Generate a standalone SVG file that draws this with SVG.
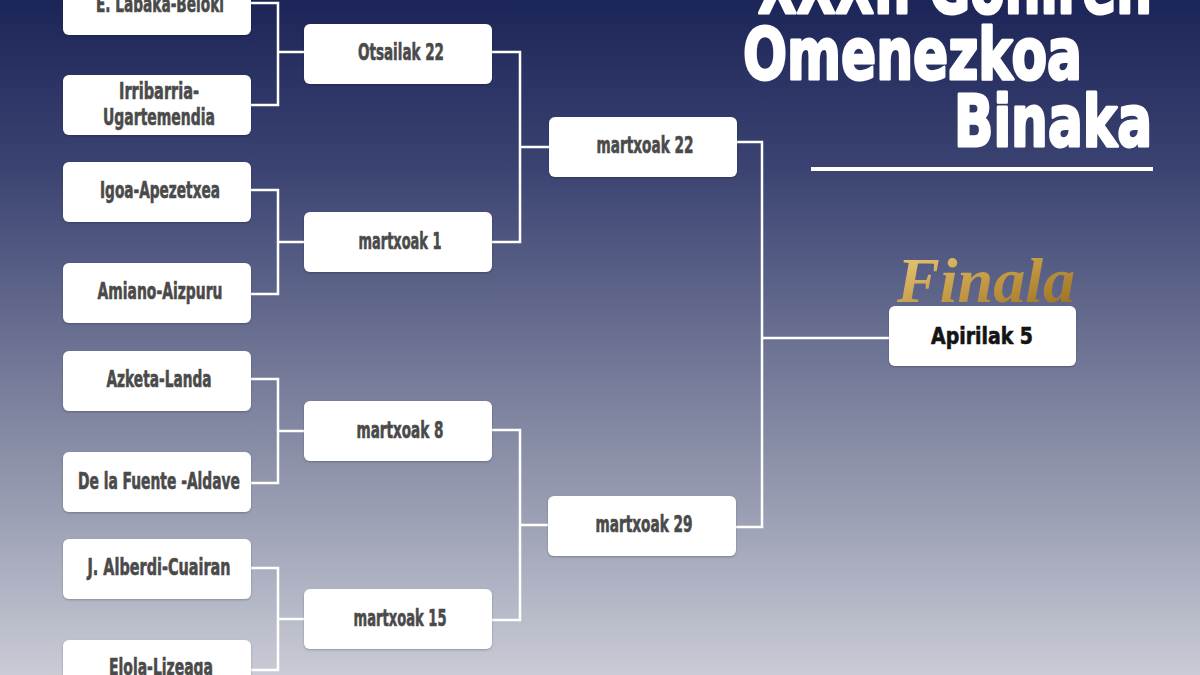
<svg xmlns="http://www.w3.org/2000/svg" width="1200" height="675" viewBox="0 0 1200 675">
<defs>
<linearGradient id="bg" x1="0" y1="0" x2="0" y2="1">
<stop offset="0" stop-color="#1c2557"/>
<stop offset="0.25" stop-color="#3b4372"/>
<stop offset="0.5" stop-color="#6a7091"/>
<stop offset="0.75" stop-color="#999db2"/>
<stop offset="1" stop-color="#c9cbd5"/>
</linearGradient>
<linearGradient id="gold" x1="0" y1="0" x2="1" y2="1">
<stop offset="0" stop-color="#ecd084"/>
<stop offset="0.5" stop-color="#c49a45"/>
<stop offset="1" stop-color="#94691c"/>
</linearGradient>
<filter id="sh" x="-10%" y="-20%" width="120%" height="150%">
<feDropShadow dx="0" dy="1" stdDeviation="1.2" flood-color="#000" flood-opacity="0.25"/>
</filter>
<style>
.box{fill:#ffffff;filter:url(#sh)}
.t{font-family:"Liberation Sans Narrow","DejaVu Sans Condensed","Liberation Sans",sans-serif;font-weight:bold;font-size:23px;fill:#4a4a4a;stroke:#4a4a4a;stroke-width:0.6;text-anchor:middle}
.ln{fill:none;stroke:#ffffff;stroke-width:2.5}
.title{font-family:"DejaVu Sans","Liberation Sans",sans-serif;font-weight:bold;font-size:72px;fill:#ffffff;stroke:#ffffff;stroke-width:3;stroke-linejoin:round}
</style>
</defs>
<rect x="0" y="0" width="1200" height="675" fill="url(#bg)"/>

<g id="title">
<text class="title" x="758" y="13" textLength="394" lengthAdjust="spacingAndGlyphs">XXXI. Goñiren</text>
<text class="title" x="743" y="79" textLength="339" lengthAdjust="spacingAndGlyphs">Omenezkoa</text>
<text class="title" x="954" y="146" textLength="198" lengthAdjust="spacingAndGlyphs">Binaka</text>
<rect x="811" y="167" width="342" height="4" fill="#ffffff"/>
</g>

<g id="connectors">
<path class="ln" d="M251 3 H278 V105 H251 M278 52 H304"/>
<path class="ln" d="M251 190 H278 V294 H251 M278 242 H304"/>
<path class="ln" d="M251 379 H278 V483 H251 M278 431 H304"/>
<path class="ln" d="M251 568 H278 V670 H251 M278 619 H304"/>
<path class="ln" d="M492 52 H520 V242 H492 M520 147 H549"/>
<path class="ln" d="M492 430 H520 V620 H492 M520 525 H548"/>
<path class="ln" d="M737 142 H762 V527 H736 M762 338 H889"/>
</g>

<g id="n1"><rect class="box" x="63" y="-25" width="188" height="60" rx="6"/><text class="t" x="160" y="12" textLength="128" lengthAdjust="spacingAndGlyphs">E. Labaka-Beloki</text></g>
<g id="n2"><rect class="box" x="63" y="75" width="188" height="60" rx="6"/><text class="t" x="159" y="99" textLength="80" lengthAdjust="spacingAndGlyphs">Irribarria-</text><text class="t" x="159" y="125" textLength="112" lengthAdjust="spacingAndGlyphs">Ugartemendia</text></g>
<g id="n3"><rect class="box" x="63" y="162" width="188" height="60" rx="6"/><text class="t" x="160" y="198" textLength="120" lengthAdjust="spacingAndGlyphs">Igoa-Apezetxea</text></g>
<g id="n4"><rect class="box" x="63" y="263" width="188" height="60" rx="6"/><text class="t" x="160" y="299" textLength="125" lengthAdjust="spacingAndGlyphs">Amiano-Aizpuru</text></g>
<g id="n5"><rect class="box" x="63" y="351" width="188" height="60" rx="6"/><text class="t" x="159" y="387" textLength="105" lengthAdjust="spacingAndGlyphs">Azketa-Landa</text></g>
<g id="n6"><rect class="box" x="63" y="452" width="188" height="60" rx="6"/><text class="t" x="159" y="489" textLength="162" lengthAdjust="spacingAndGlyphs">De la Fuente -Aldave</text></g>
<g id="n7"><rect class="box" x="63" y="539" width="188" height="60" rx="6"/><text class="t" x="159" y="575" textLength="143" lengthAdjust="spacingAndGlyphs">J. Alberdi-Cuairan</text></g>
<g id="n8"><rect class="box" x="63" y="640" width="188" height="60" rx="6"/><text class="t" x="161" y="675" textLength="104" lengthAdjust="spacingAndGlyphs">Elola-Lizeaga</text></g>

<g id="m1"><rect class="box" x="304" y="24" width="188" height="60" rx="6"/><text class="t" x="401" y="60" textLength="86" lengthAdjust="spacingAndGlyphs">Otsailak 22</text></g>
<g id="m2"><rect class="box" x="304" y="212" width="188" height="60" rx="6"/><text class="t" x="400" y="249" textLength="83" lengthAdjust="spacingAndGlyphs">martxoak 1</text></g>
<g id="m3"><rect class="box" x="304" y="401" width="188" height="60" rx="6"/><text class="t" x="400" y="438" textLength="87" lengthAdjust="spacingAndGlyphs">martxoak 8</text></g>
<g id="m4"><rect class="box" x="304" y="589" width="188" height="60" rx="6"/><text class="t" x="400" y="626" textLength="93" lengthAdjust="spacingAndGlyphs">martxoak 15</text></g>

<g id="s1"><rect class="box" x="549" y="117" width="188" height="60" rx="6"/><text class="t" x="645" y="153" textLength="97" lengthAdjust="spacingAndGlyphs">martxoak 22</text></g>
<g id="s2"><rect class="box" x="548" y="496" width="188" height="60" rx="6"/><text class="t" x="644" y="532" textLength="97" lengthAdjust="spacingAndGlyphs">martxoak 29</text></g>

<g id="final">
<text x="897" y="302" font-family="'Liberation Serif','DejaVu Serif',serif" font-style="italic" font-weight="bold" font-size="64" fill="url(#gold)" textLength="178" lengthAdjust="spacingAndGlyphs">Finala</text>
<rect class="box" x="889" y="306" width="187" height="60" rx="6"/>
<text class="t" x="982" y="344" style="fill:#141414;stroke:#141414" textLength="102" lengthAdjust="spacingAndGlyphs">Apirilak 5</text>
</g>
</svg>
